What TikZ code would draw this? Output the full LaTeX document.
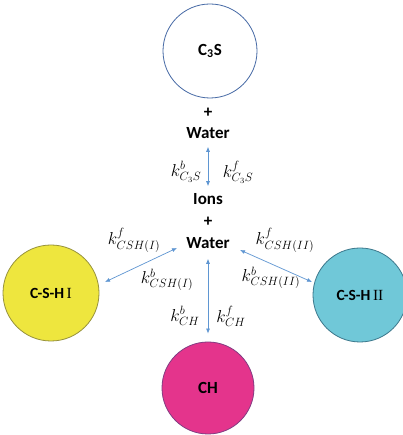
\documentclass[tikz,border=0pt]{standalone}
\usepackage{fontspec}
\setmainfont{Carlito}
\usetikzlibrary{arrows.meta}
\definecolor{arrowblue}{RGB}{95,150,210}
\definecolor{cssline}{RGB}{70,105,165}
\definecolor{yfill}{RGB}{238,230,62}
\definecolor{yline}{RGB}{150,145,60}
\definecolor{cfill}{RGB}{112,200,216}
\definecolor{cline}{RGB}{60,120,140}
\definecolor{mfill}{RGB}{228,52,140}
\definecolor{mline}{RGB}{130,60,130}
\begin{document}
\begin{tikzpicture}[x=1pt,y=1pt,
  phase/.style={circle,draw,line width=0.8pt,inner sep=0pt,font=\bfseries\fontsize{17}{19}\selectfont},
  species/.style={font=\bfseries\fontsize{17}{19}\selectfont,inner sep=1pt},
  rate/.style={font=\fontsize{17}{19}\selectfont,inner sep=0pt},
  arr/.style={arrowblue,line width=0.7pt,{Latex[length=5pt,width=4pt]}-{Latex[length=5pt,width=4pt]}}]
\useasboundingbox (0,0) rectangle (402,435);
\fill[white] (0,0) rectangle (402,435);

% reactant and product phases
\node[phase,draw=cssline,minimum size=94pt] (c3s) at (210,384) {C\textsubscript{3}S};
\node[phase,draw=yline,fill=yfill,minimum size=96pt,font=\bfseries\fontsize{15.5}{17}\selectfont] (csh1) at (51,142) {C-S-H\,\textmd{\fontspec{Liberation Serif}I}};
\node[phase,draw=cline,fill=cfill,minimum size=94pt,font=\bfseries\fontsize{15.5}{17}\selectfont] (csh2) at (360,140) {C-S-H\,\textmd{\fontspec{Liberation Serif}II}};
\node[phase,draw=mline,fill=mfill,minimum size=92pt] (ch) at (208,47) {CH};

% species text
\node[species] (plus1) at (208,322) {+};
\node[species] (water1) at (208,302) {Water};
\node[species] (ions) at (208,236) {Ions};
\node[species] (plus2) at (208,213) {+};
\node[species] (water2) at (208,192) {Water};

% connector ends
\coordinate (l1) at (177,187);
\coordinate (l2) at (105,153);
\coordinate (r1) at (240,185);
\coordinate (r2) at (312,153);

\draw[arr] ([yshift=-7pt]water1.south) -- ([yshift=6pt]ions.north);
\draw[arr] ([yshift=-9pt]water2.south) -- ([yshift=8pt]ch.north);
\draw[arr] (l1) -- (l2);
\draw[arr] (r1) -- (r2);

% rate constants
\node[rate] (kbc3s) at (186,263) {$k^{b}_{C_3S}$};
\node[rate] (kfc3s) at (238,263) {$k^{f}_{C_3S}$};
\node[rate] (kf1) at (134,195) {$k^{f}_{CSH(I)}$};
\node[rate] (kb1) at (167,155) {$k^{b}_{CSH(I)}$};
\node[rate] (kf2) at (285,195) {$k^{f}_{CSH(II)}$};
\node[rate] (kb2) at (271,157) {$k^{b}_{CSH(II)}$};
\node[rate] (kbch) at (185,119) {$k^{b}_{CH}$};
\node[rate] (kfch) at (231,119) {$k^{f}_{CH}$};
\end{tikzpicture}
\end{document}
